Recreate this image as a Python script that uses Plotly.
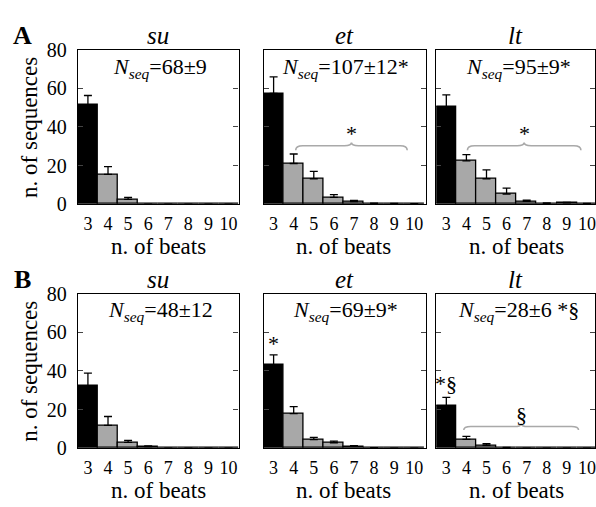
import plotly.graph_objects as go

# ---------------- data ----------------
beats = [3, 4, 5, 6, 7, 8, 9, 10]
tick_labels = ["3", "4", "5", "6", "7", "8", "9", "10"]
conditions = ["su", "et", "lt"]
panels = ["A", "B"]

# Panel A (bar heights and upper error)
A_su_val = [51.3, 15.5, 2.5, 0, 0, 0, 0, 0]
A_su_err = [5.0, 4.0, 1.0, 0, 0, 0, 0, 0]
A_et_val = [57.4, 21.1, 13.2, 3.5, 1.4, 0.4, 0.3, 0.2]
A_et_err = [8.6, 4.9, 3.8, 1.5, 0.6, 0.2, 0.1, 0.1]
A_lt_val = [50.5, 22.4, 13.2, 5.3, 1.5, 0.5, 0.7, 0.3]
A_lt_err = [6.1, 3.3, 4.6, 3.0, 0.6, 0.2, 0.3, 0.1]

# Panel B
B_su_val = [32.4, 11.8, 3.0, 0.8, 0, 0, 0, 0]
B_su_err = [6.5, 4.6, 1.0, 0.4, 0, 0, 0, 0]
B_et_val = [43.2, 17.9, 4.4, 2.8, 1.0, 0.2, 0, 0]
B_et_err = [5.1, 3.6, 1.2, 0.9, 0.3, 0.1, 0, 0]
B_lt_val = [22.0, 4.6, 1.5, 0.3, 0, 0, 0, 0]
B_lt_err = [4.3, 1.5, 0.8, 0.1, 0, 0, 0, 0]

# N_seq labels
A_nseq = ["=68±9", "=107±12*", "=95±9*"]
B_nseq = ["=48±12", "=69±9*", "=28±6 *§"]

# brackets: (start, end, base, flat, tip, symbol)
A_brackets = {1: (4.1, 9.65, 28.0, 30.3, 32.0, "*"), 2: (4.05, 9.7, 28.0, 30.3, 32.0, "*")}
B_brackets = {2: (3.87, 9.58, 9.4, 11.2, 12.8, "§")}
# bar-top markers: (col, x, y, text)
B_bar_marks = [(1, 3, 54.0, "*"), (2, 3, 33.5, "*§")]

values = {"A": [(A_su_val, A_su_err), (A_et_val, A_et_err), (A_lt_val, A_lt_err)],
          "B": [(B_su_val, B_su_err), (B_et_val, B_et_err), (B_lt_val, B_lt_err)]}
nseq = {"A": A_nseq, "B": B_nseq}
brackets = {"A": A_brackets, "B": B_brackets}

# ---------------- layout geometry ----------------
W, H = 596, 507
FONT = "Liberation Serif"
x_px = [(78, 239), (264, 426.5), (437, 596)]
y_px = {"A": (40.5, 202), "B": (295.5, 457)}
px_per_unit = (239 - 78) / 8.0
BLACK = "#000000"
GRAY = "#a8a8a8"
BRACE = "#a9a9a9"

fig = go.Figure()
layout = dict(width=W, height=H, margin=dict(l=0, r=0, t=0, b=0),
              paper_bgcolor="white", plot_bgcolor="white", bargap=0,
              showlegend=False, font=dict(family=FONT, color="black"))
annotations = []
shapes = []

for r, p in enumerate(panels):
    top, bot = y_px[p]
    for c, cond in enumerate(conditions):
        idx = r * 3 + c + 1
        xa = "x" if idx == 1 else f"x{idx}"
        ya = "y" if idx == 1 else f"y{idx}"
        val, err = values[p][c]
        fig.add_trace(go.Bar(
            x=beats, y=val, xaxis=xa, yaxis=ya, width=1,
            marker=dict(color=[BLACK] + [GRAY] * 7, line=dict(color="black", width=1.3)),
            error_y=dict(type="data", array=err, arrayminus=[0] * len(err), symmetric=False,
                         color="black", thickness=1.3, width=4),
        ))
        x0, x1 = x_px[c]
        xmax = 2.5 + (x1 - x0) / px_per_unit
        layout["xaxis" if idx == 1 else f"xaxis{idx}"] = dict(
            domain=[x0 / W, x1 / W], range=[2.5, xmax], anchor=ya,
            tickmode="array", tickvals=beats, ticktext=tick_labels, ticks="",
            ticklabelstandoff=3, ticklabeloverflow="allow",
            tickfont=dict(size=18, family=FONT),
            showline=True, linecolor="black", linewidth=1.3, mirror=True,
            showgrid=False, zeroline=False, fixedrange=True)
        layout["yaxis" if idx == 1 else f"yaxis{idx}"] = dict(
            domain=[1 - bot / H, 1 - top / H], range=[0, 80], anchor=xa,
            tickvals=[0, 20, 40, 60, 80], ticks="inside", ticklen=5, tickwidth=1,
            showticklabels=(c == 0), ticklabelstandoff=6,
            tickfont=dict(size=20, family=FONT),
            showline=True, linecolor="black", linewidth=1.3, mirror="ticks",
            showgrid=False, zeroline=False, fixedrange=True)

        xref = xa
        yref = ya
        # condition title
        annotations.append(dict(x=(x0 + min(x1, 598)) / 2 / W, y=1 - (top - 14.5) / H,
                                xref="paper", yref="paper", text=f"<i>{cond}</i>",
                                showarrow=False, font=dict(size=25, family=FONT),
                                xanchor="center", yanchor="middle"))
        # N_seq text
        annotations.append(dict(x=6.6, y=70.8, xref=xref, yref=yref,
                                text="<i>N</i><sub><i>seq</i></sub>" + nseq[p][c],
                                showarrow=False, font=dict(size=22, family=FONT),
                                xanchor="center", yanchor="middle"))
        # bracket
        if c in brackets[p]:
            s, e, yb, yf, yt, sym = brackets[p][c]
            m = (s + e) / 2
            d = 0.35
            path = (f"M {s},{yb} Q {s},{yf} {s + d},{yf} L {m - d},{yf} "
                    f"Q {m},{yf} {m},{yt} Q {m},{yf} {m + d},{yf} "
                    f"L {e - d},{yf} Q {e},{yf} {e},{yb}")
            shapes.append(dict(type="path", path=path, xref=xref, yref=yref,
                               line=dict(color=BRACE, width=1.6)))
            annotations.append(dict(x=m, y=yt + 4.5, xref=xref, yref=yref, text=sym,
                                    showarrow=False, font=dict(size=22, family=FONT),
                                    xanchor="center", yanchor="middle"))
    # bar marks
    if p == "B":
        for (c, bx, by, txt) in B_bar_marks:
            idx = r * 3 + c + 1
            annotations.append(dict(x=bx, y=by, xref=f"x{idx}", yref=f"y{idx}", text=txt,
                                    showarrow=False, font=dict(size=22, family=FONT),
                                    xanchor="center", yanchor="middle"))
    # panel letter
    annotations.append(dict(x=23 / W, y=1 - (top - 14.5) / H, xref="paper", yref="paper",
                            text=f"<b>{p}</b>", showarrow=False,
                            font=dict(size=26, family=FONT), xanchor="center", yanchor="middle"))
    # y-axis title
    annotations.append(dict(x=30 / W, y=1 - (top + bot) / 2 / H, xref="paper", yref="paper",
                            text="n. of sequences", textangle=-90, showarrow=False,
                            font=dict(size=23, family=FONT), xanchor="center", yanchor="middle"))
    # x-axis titles
    for c in range(3):
        x0, x1 = x_px[c]
        annotations.append(dict(x=(x0 + x0 + 161) / 2 / W, y=1 - (bot + 44.5) / H,
                                xref="paper", yref="paper", text="n. of beats",
                                showarrow=False, font=dict(size=23, family=FONT),
                                xanchor="center", yanchor="middle"))

layout["annotations"] = annotations
layout["shapes"] = shapes
fig.update_layout(**layout)
fig.write_html("out.html")
